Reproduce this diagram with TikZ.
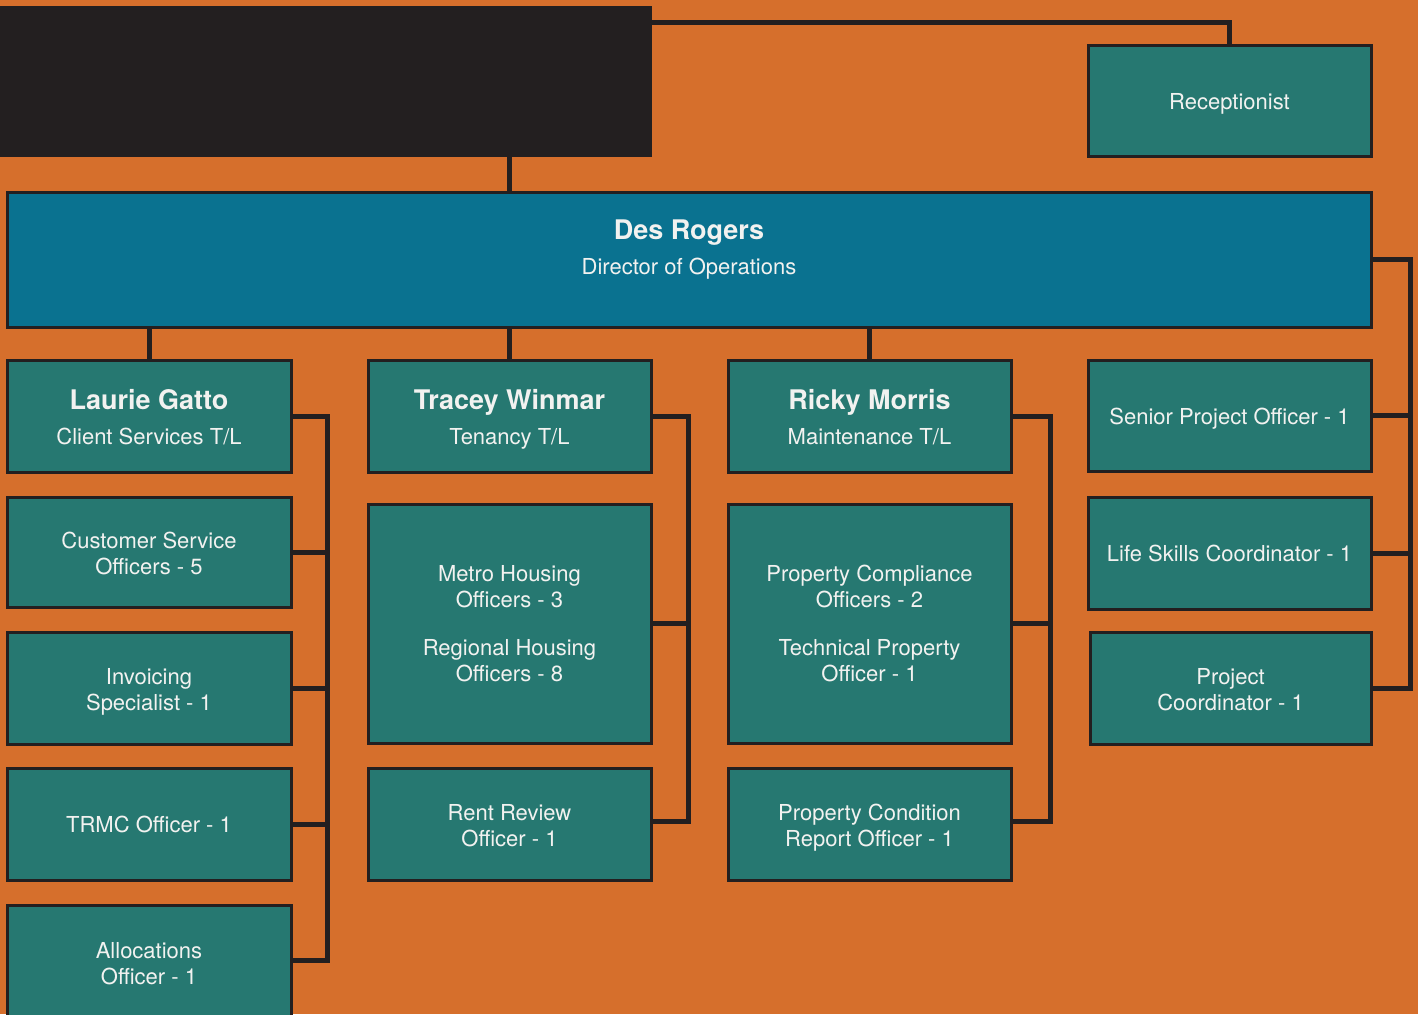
\documentclass[tikz,border=0pt]{standalone}
\usepackage{fontspec}
\setmainfont{TeX Gyre Heros}
\definecolor{bgorange}{HTML}{D66F2C}
\definecolor{boxteal}{HTML}{267871}
\definecolor{boxblue}{HTML}{0A7290}
\definecolor{inkblack}{HTML}{231F20}
\definecolor{txtwhite}{HTML}{F2F2F0}
\begin{document}
\begin{tikzpicture}[x=0.5pt,y=-0.5pt,
  box/.style={draw=inkblack, line width=1.5pt, fill=boxteal, text=txtwhite,
    rectangle, inner sep=0pt, outer sep=0pt, align=center,
    font=\fontsize{11}{13}\selectfont},
  dirbox/.style={box, fill=boxblue},
  oneline/.style={text height=8.5pt, text depth=0pt},
  twoline/.style={text height=24pt, text depth=2pt},
  named/.style={text height=29pt, text depth=1pt},
  conn/.style={draw=inkblack, line width=2.5pt}]
\useasboundingbox (0,0) rectangle (1418,1014);
\fill[bgorange] (0,0) rectangle (1418,1014);
\clip (0,0) rectangle (1418,1014);
% coordinates for bracket lines
\coordinate (b1) at (327,0);
\coordinate (b2) at (688,0);
\coordinate (b3) at (1050,0);
\coordinate (b4) at (1410,0);
% black header box
\node[fill=inkblack, rectangle, inner sep=0pt, outer sep=0pt, minimum width=330pt, minimum height=75.5pt] (black) at (322,81.5) {};
% Receptionist
\node[box, oneline, minimum width=141.5pt, minimum height=55.5pt] (recep) at (1229.5,100.5) {Receptionist};
% Director
\node[dirbox, text height=29.5pt, text depth=15pt, minimum width=682pt, minimum height=67.5pt] (des) at (689,259.5)
  {{\fontsize{13.5}{13}\selectfont\bfseries Des Rogers}\\[4.5pt]Director of Operations};
% row 1
\node[box, named, minimum width=142pt, minimum height=56pt] (laurie) at (149,416)
  {{\fontsize{13.5}{13}\selectfont\bfseries Laurie Gatto}\\[4.5pt]Client Services T/L};
\node[box, named, minimum width=141.5pt, minimum height=56pt] (tracey) at (509.5,416)
  {{\fontsize{13.5}{13}\selectfont\bfseries Tracey Winmar}\\[4.5pt]Tenancy T/L};
\node[box, named, minimum width=141.5pt, minimum height=56pt] (ricky) at (869.5,416)
  {{\fontsize{13.5}{13}\selectfont\bfseries Ricky Morris}\\[4.5pt]Maintenance T/L};
\node[box, oneline, minimum width=141.5pt, minimum height=55.5pt] (spo) at (1229.5,415.5) {Senior Project Officer - 1};
% column 1
\node[box, twoline, minimum width=142pt, minimum height=55pt] (cso) at (149,552) {Customer Service\\Officers - 5};
\node[box, twoline, minimum width=142pt, minimum height=56pt] (inv) at (149,688) {Invoicing\\Specialist - 1};
\node[box, oneline, minimum width=142pt, minimum height=56pt] (trmc) at (149,824) {TRMC Officer - 1};
\node[box, twoline, minimum width=142pt, minimum height=57pt] (alloc) at (149,962) {Allocations\\Officer - 1};
% column 2
\node[box, minimum width=141.5pt, minimum height=119.5pt] (metro) at (509.5,623.5)
  {Metro Housing\\Officers - 3\\[11pt]Regional Housing\\Officers - 8};
\node[box, twoline, minimum width=141.5pt, minimum height=56pt] (rent) at (509.5,824) {Rent Review\\Officer - 1};
% column 3
\node[box, minimum width=141.5pt, minimum height=119.5pt] (pco) at (869.5,623.5)
  {Property Compliance\\Officers - 2\\[11pt]Technical Property\\Officer - 1};
\node[box, twoline, minimum width=141.5pt, minimum height=56pt] (pcr) at (869.5,824) {Property Condition\\Report Officer - 1};
% column 4
\node[box, oneline, minimum width=141.5pt, minimum height=56pt] (ls) at (1229.5,553) {Life Skills Coordinator - 1};
\node[box, twoline, minimum width=140.5pt, minimum height=56pt] (pc) at (1230.5,688) {Project\\Coordinator - 1};
% connectors
\draw[conn] (black.north east) ++(0,16) coordinate (bk) -| (recep.north);
\draw[conn] (black.south -| tracey.north) -- (des.north -| tracey.north);
\draw[conn] (des.south -| laurie.north) -- (laurie.north);
\draw[conn] (des.south -| tracey.north) -- (tracey.north);
\draw[conn] (des.south -| ricky.north) -- (ricky.north);
\draw[conn] (des.east) -- (des.east -| b4) |- (pc.east);
\draw[conn] (spo.east) -- (spo.east -| b4);
\draw[conn] (ls.east) -- (ls.east -| b4);
\draw[conn] (laurie.east) -- (laurie.east -| b1) |- ([yshift=1pt]alloc.east);
\draw[conn] (cso.east) -- (cso.east -| b1);
\draw[conn] (inv.east) -- (inv.east -| b1);
\draw[conn] (trmc.east) -- (trmc.east -| b1);
\draw[conn] (tracey.east) -- (tracey.east -| b2) |- ([yshift=1.5pt]rent.east);
\draw[conn] (metro.east) -- (metro.east -| b2);
\draw[conn] (ricky.east) -- (ricky.east -| b3) |- ([yshift=1.5pt]pcr.east);
\draw[conn] (pco.east) -- (pco.east -| b3);
\end{tikzpicture}
\end{document}
